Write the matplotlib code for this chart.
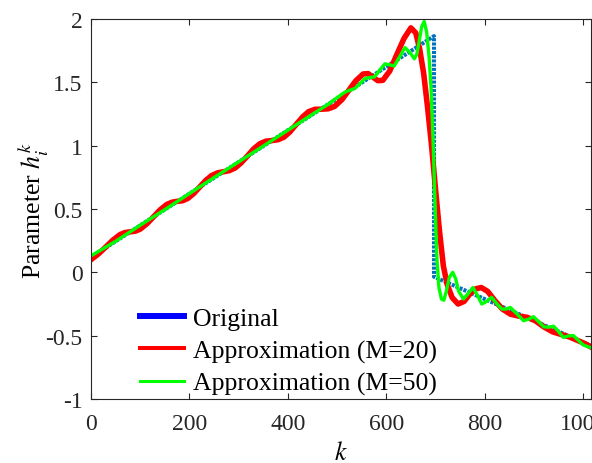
import matplotlib
matplotlib.use("Agg")
import matplotlib.pyplot as plt
from matplotlib.lines import Line2D

# original piecewise signal
k_orig = [0, 697, 697, 1016]
h_orig = [0.12, 1.865, -0.035, -0.58]

# approximation with M=20
k_m20 = [0, 15, 30, 44, 59, 69, 80, 90, 100, 114, 127, 140, 154, 165, 176, 186, 197,
         209, 221, 233, 245, 257, 269, 281, 293, 305, 318, 330, 343, 355, 367, 380, 392,
         404, 417, 430, 442, 455, 468, 482, 495, 510, 524, 538, 553, 563, 573, 583, 593,
         607, 621, 636, 650, 660, 668, 676, 684, 692, 700, 708, 716, 724, 734, 746, 758,
         770, 782, 793, 806, 820, 836, 852, 868, 886, 902, 920, 938, 955, 972, 990, 1005, 1016]
h_m20 = [0.100, 0.145, 0.200, 0.253, 0.298, 0.314, 0.320, 0.325, 0.341, 0.385, 0.438, 0.492,
         0.536, 0.554, 0.561, 0.565, 0.584, 0.623, 0.674, 0.725, 0.764, 0.785, 0.794, 0.803,
         0.824, 0.864, 0.919, 0.973, 1.015, 1.035, 1.040, 1.047, 1.067, 1.108, 1.168, 1.227,
         1.268, 1.287, 1.288, 1.291, 1.310, 1.364, 1.438, 1.512, 1.566, 1.569, 1.541, 1.513,
         1.516, 1.589, 1.716, 1.846, 1.930, 1.890, 1.760, 1.570, 1.300, 1.000, 0.660, 0.330,
         0.050, -0.100, -0.200, -0.250, -0.230, -0.170, -0.130, -0.120, -0.150, -0.220,
         -0.290, -0.330, -0.345, -0.355, -0.380, -0.430, -0.470, -0.490, -0.510, -0.540,
         -0.565, -0.590]

# approximation with M=50
k_m50 = [0, 50, 100, 150, 200, 250, 300, 350, 400, 450, 480, 496, 516, 526, 536, 546, 556,
         566, 576, 586, 597, 606, 616, 627, 638, 647, 657, 662, 667, 672, 677, 682, 687, 691,
         695, 699, 703, 707, 712, 717, 722, 728, 735, 741, 747, 757, 766, 776, 785, 794, 804,
         814, 825, 835, 844, 852, 866, 879, 889, 899, 910, 920, 930, 940, 950, 960, 970, 980,
         990, 1000, 1008, 1016]
h_m50 = [0.130, 0.245, 0.372, 0.495, 0.622, 0.748, 0.872, 0.997, 1.122, 1.248, 1.322, 1.368,
         1.423, 1.438, 1.451, 1.488, 1.528, 1.538, 1.543, 1.593, 1.646, 1.639, 1.629, 1.701,
         1.774, 1.741, 1.686, 1.720, 1.830, 1.940, 1.980, 1.900, 1.700, 1.450, 1.050, 0.550,
         0.100, -0.120, -0.210, -0.220, -0.150, -0.040, 0.000, -0.050, -0.150, -0.210, -0.170,
         -0.120, -0.180, -0.250, -0.230, -0.197, -0.250, -0.290, -0.290, -0.277, -0.330,
         -0.382, -0.370, -0.350, -0.390, -0.430, -0.433, -0.425, -0.467, -0.514, -0.502,
         -0.499, -0.536, -0.573, -0.585, -0.595]

y_ticks = [-1, -0.5, 0, 0.5, 1, 1.5, 2]
x_ticks = [0, 200, 400, 600, 800, 1000]
legend_labels = ["Original", "Approximation (M=20)", "Approximation (M=50)"]

plt.rcParams["font.family"] = ["Liberation Serif", "DejaVu Serif"]
plt.rcParams["mathtext.fontset"] = "stix"
plt.rcParams["axes.unicode_minus"] = False

fig = plt.figure(figsize=(5.92, 4.64), dpi=100)
ax = fig.add_axes([91 / 592, 1 - 400 / 464, 500 / 592, 380 / 464])

ax.plot(k_orig, h_orig, color="#0072BD", lw=2.9, linestyle=(0, (0.75, 0.3)))
ax.plot(k_m20, h_m20, color="#FF0000", lw=4.0, solid_joinstyle="round")
ax.plot(k_m50, h_m50, color="#00FF00", lw=2.4, solid_joinstyle="round")

ax.set_xlim(0, 1016)
ax.set_ylim(-1, 2)
ax.set_xticks(x_ticks)
ax.set_yticks(y_ticks)
ax.set_yticklabels(["%g" % v for v in y_ticks])

for s in ax.spines.values():
    s.set_color("#262626")
    s.set_linewidth(0.8)
ax.tick_params(direction="in", length=4, width=0.8, top=True, right=True,
               colors="#262626", labelsize=17)
ax.tick_params(axis="x", pad=10)
ax.tick_params(axis="y", pad=6)

ax.set_xlabel("$k$", fontsize=18.5, labelpad=5)
ax.set_ylabel("Parameter $h_i^k$", fontsize=18.5, labelpad=-4)

handles = [
    Line2D([], [], color="#0000FF", lw=4.3),
    Line2D([], [], color="#FF0000", lw=2.9),
    Line2D([], [], color="#00FF00", lw=2.2),
]
ax.legend(handles, legend_labels, loc="lower left", bbox_to_anchor=(0.098, 0.01),
          frameon=False, fontsize=18.5, handlelength=1.7, handletextpad=0.35,
          labelspacing=0.35, borderpad=0, borderaxespad=0)

fig.savefig("out.png", dpi=100)
